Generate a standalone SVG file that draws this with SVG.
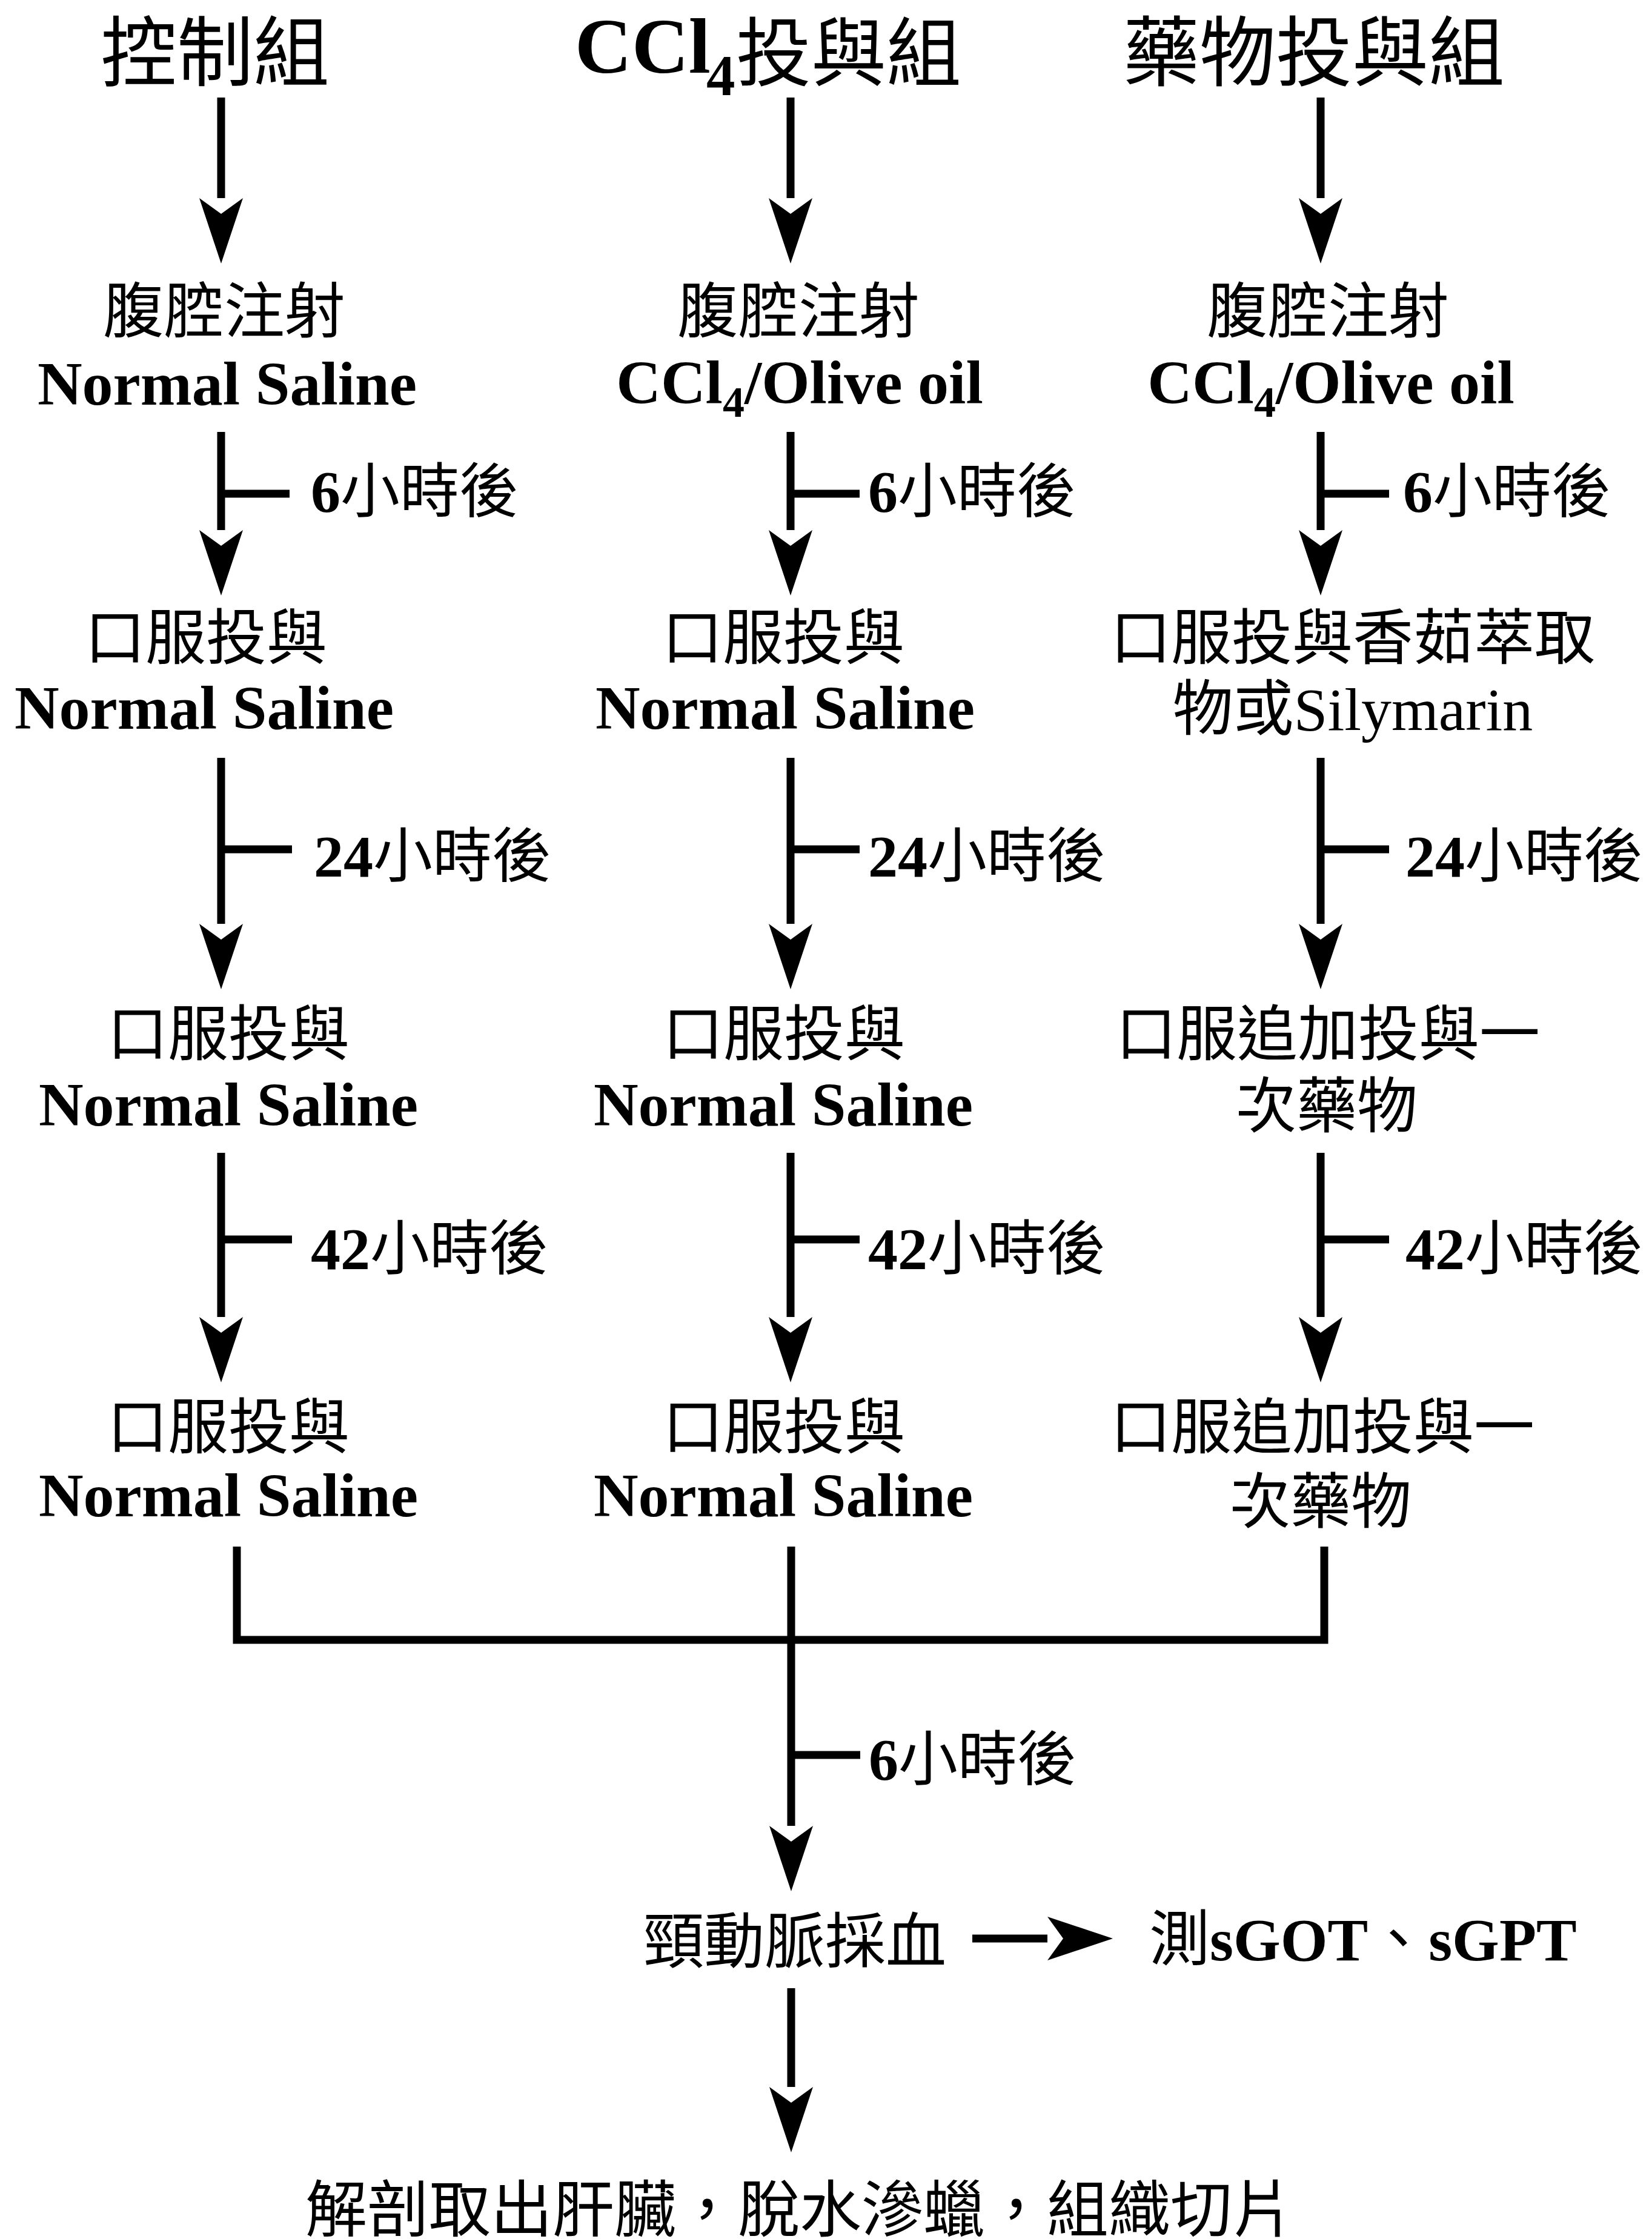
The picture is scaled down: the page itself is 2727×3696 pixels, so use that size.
<svg xmlns="http://www.w3.org/2000/svg" width="2727" height="3696" viewBox="0 0 2727 3696">
<style>
.cjk{font-family:"Noto Sans CJK TC","Noto Sans CJK JP",sans-serif;fill:#000}
.lat{font-family:"Liberation Serif","Times New Roman",serif;font-weight:bold;fill:#000}
.reg{font-family:"Liberation Serif","Times New Roman",serif;font-weight:normal}
.b{font-family:"Liberation Serif","Times New Roman",serif;font-weight:bold}
.h{font-size:126px}
.t{font-size:100px}
.n{font-size:102px}
.lbl{font-size:98px}
.ln{fill:none;stroke:#000;stroke-width:13;stroke-linecap:butt;stroke-linejoin:miter}
.ar{marker-end:url(#ah)}
</style>
<defs>
<marker id="ah" markerUnits="userSpaceOnUse" viewBox="-30 -40 140 80" refX="0" refY="0" markerWidth="140" markerHeight="80" orient="auto">
<path d="M108,0 L0,-36 L26,0 L0,36 Z" fill="#000"/>
</marker>
</defs>
<rect width="2727" height="3696" fill="#fff"/>

<g id="connectors">
<path class="ln ar" d="M365,161 V327"/>
<path class="ln ar" d="M365,713 V875"/>
<path class="ln" d="M365,815 H478"/>
<path class="ln ar" d="M365,1251 V1525"/>
<path class="ln" d="M365,1402 H482"/>
<path class="ln ar" d="M365,1903 V2174"/>
<path class="ln" d="M365,2046 H482"/>

<path class="ln ar" d="M1305,161 V327"/>
<path class="ln ar" d="M1305,713 V875"/>
<path class="ln" d="M1305,815 H1419"/>
<path class="ln ar" d="M1305,1251 V1525"/>
<path class="ln" d="M1305,1402 H1419"/>
<path class="ln ar" d="M1305,1903 V2174"/>
<path class="ln" d="M1305,2046 H1419"/>

<path class="ln ar" d="M2180,161 V327"/>
<path class="ln ar" d="M2180,713 V875"/>
<path class="ln" d="M2180,815 H2293"/>
<path class="ln ar" d="M2180,1251 V1525"/>
<path class="ln" d="M2180,1402 H2293"/>
<path class="ln ar" d="M2180,1903 V2174"/>
<path class="ln" d="M2180,2046 H2293"/>

<path class="ln" d="M391,2553 V2707 H2186 V2553"/>
<path class="ln ar" d="M1306,2553 V3014"/>
<path class="ln" d="M1306,2897 H1420"/>
<path class="ln ar" d="M1605,3200 H1729"/>
<path class="ln ar" d="M1306,3282 V3445"/>
</g>

<g id="labels">
<text class="cjk lbl" x="513" y="845"><tspan class="b">6</tspan>小時後</text>
<text class="cjk lbl" x="518" y="1447"><tspan class="b">24</tspan>小時後</text>
<text class="cjk lbl" x="513" y="2095"><tspan class="b">42</tspan>小時後</text>
<text class="cjk lbl" x="1433" y="845"><tspan class="b">6</tspan>小時後</text>
<text class="cjk lbl" x="1433" y="1447"><tspan class="b">24</tspan>小時後</text>
<text class="cjk lbl" x="1433" y="2095"><tspan class="b">42</tspan>小時後</text>
<text class="cjk lbl" x="2316" y="845"><tspan class="b">6</tspan>小時後</text>
<text class="cjk lbl" x="2320" y="1447"><tspan class="b">24</tspan>小時後</text>
<text class="cjk lbl" x="2320" y="2095"><tspan class="b">42</tspan>小時後</text>
<text class="cjk lbl" x="1434" y="2938"><tspan class="b">6</tspan>小時後</text>
</g>

<g id="header-control">
<text class="cjk h" x="355" y="132" text-anchor="middle">控制組</text>
</g>
<g id="header-ccl4">
<text class="lat" x="949" y="120" font-size="130">CCl</text>
<text class="lat" x="1166" y="157" font-size="95">4</text>
<text class="cjk" x="1215" y="132" font-size="124">投與組</text>
</g>
<g id="header-drug">
<text class="cjk h" x="2169" y="132" text-anchor="middle">藥物投與組</text>
</g>

<g id="c1-r1">
<text class="cjk t" x="370" y="549" text-anchor="middle">腹腔注射</text>
<text class="lat n" x="375" y="668" text-anchor="middle">Normal Saline</text>
</g>
<g id="c2-r1">
<text class="cjk t" x="1318" y="549" text-anchor="middle">腹腔注射</text>
<text class="lat n" x="1320" y="666" text-anchor="middle">CCl<tspan font-size="72" dy="22">4</tspan><tspan dy="-22">/Olive oil</tspan></text>
</g>
<g id="c3-r1">
<text class="cjk t" x="2192" y="549" text-anchor="middle">腹腔注射</text>
<text class="lat n" x="2197" y="666" text-anchor="middle">CCl<tspan font-size="72" dy="22">4</tspan><tspan dy="-22">/Olive oil</tspan></text>
</g>

<g id="c1-r2">
<text class="cjk t" x="340" y="1088" text-anchor="middle">口服投與</text>
<text class="lat n" x="337" y="1203" text-anchor="middle">Normal Saline</text>
</g>
<g id="c2-r2">
<text class="cjk t" x="1293" y="1088" text-anchor="middle">口服投與</text>
<text class="lat n" x="1296" y="1203" text-anchor="middle">Normal Saline</text>
</g>
<g id="c3-r2">
<text class="cjk t" x="2233" y="1088" text-anchor="middle">口服投與香茹萃取</text>
<text class="cjk t" x="2233" y="1205" text-anchor="middle">物或<tspan class="reg">Silymarin</tspan></text>
</g>

<g id="c1-r3">
<text class="cjk t" x="377" y="1742" text-anchor="middle">口服投與</text>
<text class="lat n" x="377" y="1858" text-anchor="middle">Normal Saline</text>
</g>
<g id="c2-r3">
<text class="cjk t" x="1294" y="1742" text-anchor="middle">口服投與</text>
<text class="lat n" x="1293" y="1858" text-anchor="middle">Normal Saline</text>
</g>
<g id="c3-r3">
<text class="cjk t" x="2192" y="1742" text-anchor="middle">口服追加投與一</text>
<text class="cjk t" x="2190" y="1861" text-anchor="middle">次藥物</text>
</g>

<g id="c1-r4">
<text class="cjk t" x="377" y="2391" text-anchor="middle">口服投與</text>
<text class="lat n" x="377" y="2503" text-anchor="middle">Normal Saline</text>
</g>
<g id="c2-r4">
<text class="cjk t" x="1294" y="2391" text-anchor="middle">口服投與</text>
<text class="lat n" x="1293" y="2503" text-anchor="middle">Normal Saline</text>
</g>
<g id="c3-r4">
<text class="cjk t" x="2183" y="2391" text-anchor="middle">口服追加投與一</text>
<text class="cjk t" x="2180" y="2514" text-anchor="middle">次藥物</text>
</g>

<g id="blood">
<text class="cjk t" x="1312" y="3240" text-anchor="middle">頸動脈採血</text>
</g>
<g id="measure">
<text class="cjk t" x="1897" y="3236">測<tspan class="b">sGOT</tspan>、<tspan class="b">sGPT</tspan></text>
</g>
<g id="dissect">
<text class="cjk" font-size="102" x="1320" y="3684" text-anchor="middle">解剖取出肝臟，脫水滲蠟，組織切片</text>
</g>
</svg>
